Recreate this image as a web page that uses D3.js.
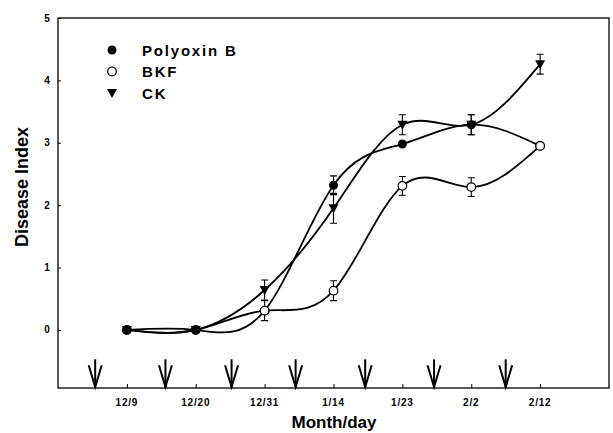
<!DOCTYPE html>
<html>
<head>
<meta charset="utf-8">
<script src="https://cdn.jsdelivr.net/npm/d3@7"></script>
<style>
  body { margin: 0; background: #fff; }
  text { font-family: "Liberation Sans", Arial, sans-serif; font-weight: bold; fill: #000; }
</style>
</head>
<body>
<div id="chart"></div>
<script>
// sampling dates (categorical, placed at index 0..6)
const dates = ["12/9", "12/20", "12/31", "1/14", "1/23", "2/2", "2/12"];

// disease index means
const polyoxinB = [0, 0, 0.31, 2.32, 2.98, 3.29, 2.95];
const bkf = [0, 0, 0.31, 0.63, 2.31, 2.29, 2.95];
const ck = [0, 0, 0.64, 1.95, 3.29, 3.29, 4.26];

// error (half-length); null = no bar drawn
const polyoxinErr = [null, null, null, 0.15, null, 0.16, null];
const bkfErr = [null, null, 0.16, 0.16, 0.15, 0.15, null];
const ckErr = [null, null, 0.16, 0.24, 0.16, 0.16, 0.16];

// spray dates, in date-index units
const sprayPositions = [-0.46, 0.56, 1.52, 2.45, 3.46, 4.46, 5.5];

const yTicks = [0, 1, 2, 3, 4, 5];

const W = 613, H = 433;
const plot = { left: 58, right: 609, top: 18, bottom: 388 };

const svg = d3.select("#chart").append("svg")
  .attr("width", W).attr("height", H);

const x = d3.scaleLinear().domain([-1, 7]).range([plot.left, plot.right]);
const y = d3.scaleLinear().domain([-0.93, 5]).range([plot.bottom, plot.top]);

// frame
svg.append("rect")
  .attr("x", plot.left).attr("y", plot.top)
  .attr("width", plot.right - plot.left).attr("height", plot.bottom - plot.top)
  .attr("fill", "none").attr("stroke", "#000").attr("stroke-width", 1.3);

// y axis ticks (inward) + labels
const yAxis = svg.append("g").attr("transform", `translate(${plot.left},0)`)
  .call(d3.axisRight(y).tickValues(yTicks).tickSize(3).tickFormat(""));
yAxis.select(".domain").remove();
yAxis.selectAll("line").attr("stroke-width", 1);

svg.selectAll(".ylab").data(yTicks).join("text")
  .attr("class", "ylab")
  .attr("x", 47).attr("y", d => y(d) + 3.5)
  .attr("text-anchor", "middle")
  .style("font-size", "10px")
  .text(d => d);

// x axis ticks (inward) + labels
const xAxis = svg.append("g").attr("transform", `translate(0,${plot.bottom})`)
  .call(d3.axisTop(x).tickValues(d3.range(dates.length)).tickSize(4).tickFormat(""));
xAxis.select(".domain").remove();
xAxis.selectAll("line").attr("stroke-width", 1);

svg.selectAll(".xlab").data(dates).join("text")
  .attr("class", "xlab")
  .attr("x", (d, i) => x(i)).attr("y", 406)
  .attr("text-anchor", "middle")
  .style("font-size", "10px")
  .style("letter-spacing", "0.8px")
  .text(d => d);

// axis titles
svg.append("text")
  .attr("x", 334).attr("y", 428)
  .attr("text-anchor", "middle")
  .style("font-size", "17px")
  .text("Month/day");

svg.append("text")
  .attr("transform", "translate(28,187) rotate(-90)")
  .attr("text-anchor", "middle")
  .style("font-size", "18px")
  .text("Disease Index");

// spray arrows
const arrowTop = -0.47;
const arrows = svg.append("g").attr("stroke", "#000").attr("stroke-width", 2).attr("fill", "none");
sprayPositions.forEach(p => {
  const ax = x(p), yb = plot.bottom - 1, yt = y(arrowTop);
  arrows.append("path").attr("d", `M${ax},${yt}V${yb}`);
  arrows.append("path").attr("d", `M${ax - 6.5},${yt + 6}L${ax},${yb}L${ax + 6.5},${yt + 6}`);
});

// series, in marker drawing order (later = on top)
const series = [
  { name: "BKF", values: bkf, errs: bkfErr, marker: "open" },
  { name: "CK", values: ck, errs: ckErr, marker: "triangle" },
  { name: "Polyoxin B", values: polyoxinB, errs: polyoxinErr, marker: "filled" },
];
// points where the open BKF circle sits on top of the overlapping filled one
const bkfOnTop = [2, 6];

const line = d3.line()
  .x((d, i) => x(i))
  .y(d => y(d))
  .curve(d3.curveNatural);

series.forEach(s => {
  svg.append("path")
    .datum(s.values)
    .attr("fill", "none")
    .attr("stroke", "#000")
    .attr("stroke-width", 1.8)
    .attr("d", line);
});

function drawMarker(g, type, cx, cy) {
  if (type === "filled") {
    g.append("circle").attr("cx", cx).attr("cy", cy).attr("r", 4.5).attr("fill", "#000");
  } else if (type === "open") {
    g.append("circle").attr("cx", cx).attr("cy", cy).attr("r", 4.3)
      .attr("fill", "#fff").attr("stroke", "#000").attr("stroke-width", 1.2);
  } else {
    g.append("path")
      .attr("d", `M${cx - 5},${cy - 4}L${cx + 5},${cy - 4}L${cx},${cy + 5}Z`)
      .attr("fill", "#000");
  }
}

series.forEach(s => {
  const g = svg.append("g");
  s.values.forEach((v, i) => {
    const e = s.errs[i];
    if (e != null) {
      const cx = x(i), y1 = y(v + e), y2 = y(v - e);
      g.append("path")
        .attr("d", `M${cx},${y1}V${y2}M${cx - 3.5},${y1}H${cx + 3.5}M${cx - 3.5},${y2}H${cx + 3.5}`)
        .attr("stroke", "#000").attr("stroke-width", 1.1).attr("fill", "none");
    }
  });
  s.values.forEach((v, i) => drawMarker(g, s.marker, x(i), y(v)));
});

const topG = svg.append("g");
bkfOnTop.forEach(i => drawMarker(topG, "open", x(i), y(bkf[i])));

// legend
const legendItems = [
  { name: "Polyoxin B", marker: "filled" },
  { name: "BKF", marker: "open" },
  { name: "CK", marker: "triangle" },
];
legendItems.forEach((d, i) => {
  const ly = 50 + i * 21.5;
  const g = svg.append("g");
  drawMarker(g, d.marker, 112, ly);
  g.append("text")
    .attr("x", 142).attr("y", ly + 5.5)
    .style("font-size", "15px")
    .style("letter-spacing", "1.8px")
    .text(d.name);
});
</script>
</body>
</html>
